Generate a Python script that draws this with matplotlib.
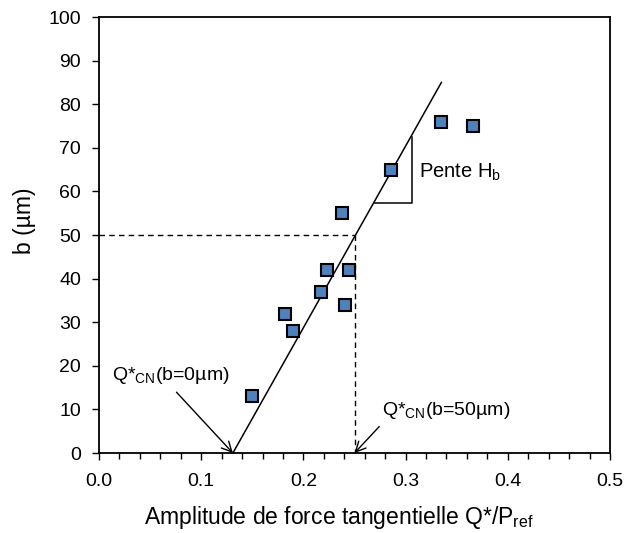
import matplotlib.pyplot as plt
from matplotlib.ticker import MultipleLocator

plt.rcParams['font.family'] = ['Liberation Sans', 'DejaVu Sans']

# measured points
amplitude = [0.150, 0.182, 0.190, 0.2176, 0.2235, 0.238, 0.241, 0.245, 0.286, 0.335, 0.366]
b_um = [13, 32, 28, 37, 42, 55, 34, 42, 65, 76, 75]

# fitted line end points
fit_x = [0.131, 0.335]
fit_y = [0, 85]

# slope triangle
tri_x = [0.27, 0.306, 0.306]
tri_y = [57.3, 57.3, 72.5]

q_b50 = 0.25
b_ref = 50

fig = plt.figure(figsize=(6.25, 5.33), dpi=100)
ax = fig.add_axes([0.1584, 0.150, 0.8176, 0.818])

ax.plot(fit_x, fit_y, color='black', lw=1.1)
ax.plot(tri_x, tri_y, color='black', lw=1.1)
ax.plot([0, q_b50], [b_ref, b_ref], color='black', lw=1, ls=(0, (4, 3)))
ax.plot([q_b50, q_b50], [b_ref, 0], color='black', lw=1, ls=(0, (4, 3)))
ax.plot(amplitude, b_um, ls='none', marker='s', markersize=8.5,
        markerfacecolor='#4F81BD', markeredgecolor='black', markeredgewidth=1.5, zorder=5)

ax.text(0.313, 64.4, r'Pente H$_\mathregular{b}$', fontsize=14.5, va='center', ha='left')

ax.annotate(r'Q*$_\mathregular{CN}$(b=0µm)', xy=(fit_x[0], 0), xytext=(0.013, 15.3),
            fontsize=14, ha='left', va='bottom',
            arrowprops=dict(arrowstyle='->', color='black', lw=1, mutation_scale=18,
                            shrinkA=3, shrinkB=0, relpos=(0.5, 0)))
ax.annotate(r'Q*$_\mathregular{CN}$(b=50µm)', xy=(q_b50, 0), xytext=(0.277, 7.4),
            fontsize=14, ha='left', va='bottom',
            arrowprops=dict(arrowstyle='->', color='black', lw=1, mutation_scale=18,
                            shrinkA=3, shrinkB=0, relpos=(0.02, 0)))

ax.set_xlim(0, 0.5)
ax.set_ylim(0, 100)
ax.xaxis.set_major_locator(MultipleLocator(0.1))
ax.xaxis.set_minor_locator(MultipleLocator(0.02))
ax.yaxis.set_major_locator(MultipleLocator(10))
ax.tick_params(direction='out', labelsize=14, length=5, width=1)
ax.tick_params(axis='x', pad=9.5)
ax.tick_params(axis='y', pad=8)
ax.tick_params(which='minor', direction='out', length=4, width=1)
ax.set_xticklabels([f'{v:.1f}' for v in ax.get_xticks()])
for s in ax.spines.values():
    s.set_linewidth(1.3)

ax.set_xlabel(r'Amplitude de force tangentielle Q*/P$_\mathregular{ref}$', fontsize=16.5, va='baseline')
ax.xaxis.set_label_coords(0.47, -0.162)
ax.set_ylabel('b (µm)', fontsize=16.5, va='center')
ax.yaxis.set_label_coords(-0.146, 0.532)

fig.savefig('out.png', dpi=100)
